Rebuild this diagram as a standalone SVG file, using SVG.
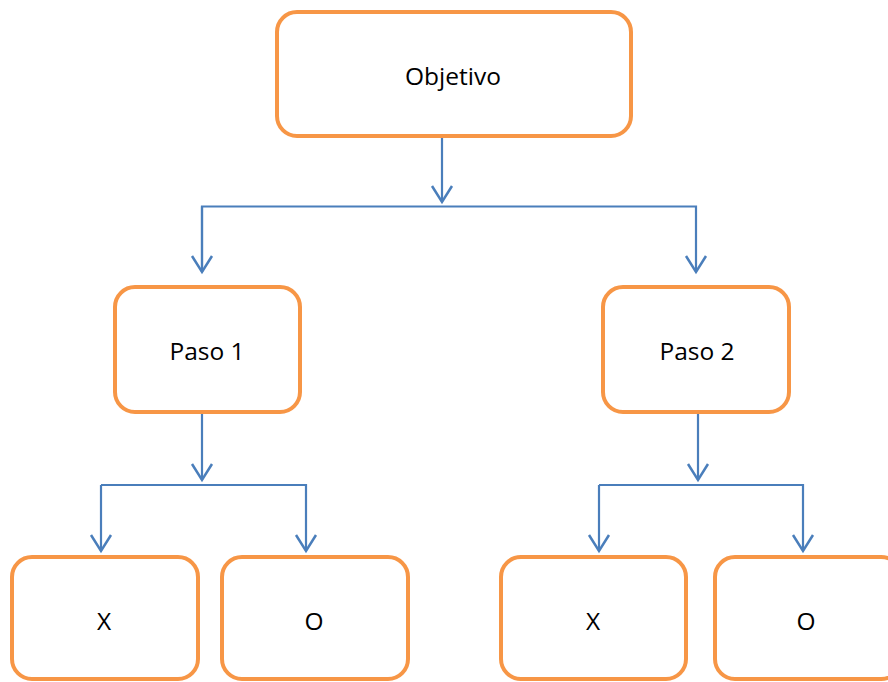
<svg xmlns="http://www.w3.org/2000/svg" width="888" height="682" viewBox="0 0 888 682">
<style>
.box{fill:#fff;stroke:#F79646;stroke-width:4}
.lbl{font-family:"Open Sans","Liberation Sans",sans-serif;font-size:24.5px;fill:#000;text-anchor:middle}
.ln{fill:none;stroke:#4A7EBB;stroke-width:2.2}
</style>
<defs>
<marker id="ah" viewBox="-20 -12 24 24" markerWidth="24" markerHeight="24" refX="0" refY="0" orient="auto" markerUnits="userSpaceOnUse">
<path d="M-16,-10 L0,0 L-16,10" fill="none" stroke="#4A7EBB" stroke-width="2.5"/>
</marker>
</defs>
<rect width="888" height="682" fill="#fff"/>
<g id="connectors">
<path class="ln" d="M442,138 V202" marker-end="url(#ah)"/>
<path class="ln" d="M202,272 V206.5 H696 V272" marker-end="url(#ah)"/>
<path class="ln" d="M202,206.5 V272" marker-end="url(#ah)"/>
<path class="ln" d="M202,413 V480" marker-end="url(#ah)"/>
<path class="ln" d="M101,485 H306 V551" marker-end="url(#ah)"/>
<path class="ln" d="M101,485 V551" marker-end="url(#ah)"/>
<path class="ln" d="M698,413 V480" marker-end="url(#ah)"/>
<path class="ln" d="M599,485 H803 V551" marker-end="url(#ah)"/>
<path class="ln" d="M599,485 V551" marker-end="url(#ah)"/>
</g>
<g id="objetivo"><rect class="box" x="277" y="12" width="354" height="124" rx="20"/><text class="lbl" x="453" y="85">Objetivo</text></g>
<g id="paso1"><rect class="box" x="115" y="287" width="185" height="125" rx="20"/><text class="lbl" x="207" y="360">Paso 1</text></g>
<g id="paso2"><rect class="box" x="603" y="287" width="186" height="125" rx="20"/><text class="lbl" x="697" y="360">Paso 2</text></g>
<g id="x1"><rect class="box" x="12" y="557" width="186" height="122" rx="20"/><text class="lbl" x="104" y="630">X</text></g>
<g id="o1"><rect class="box" x="222" y="557" width="186" height="122" rx="20"/><text class="lbl" x="314" y="630">O</text></g>
<g id="x2"><rect class="box" x="501" y="557" width="185" height="122" rx="20"/><text class="lbl" x="593" y="630">X</text></g>
<g id="o2"><rect class="box" x="715" y="557" width="186" height="122" rx="20"/><text class="lbl" x="806" y="630">O</text></g>
</svg>
